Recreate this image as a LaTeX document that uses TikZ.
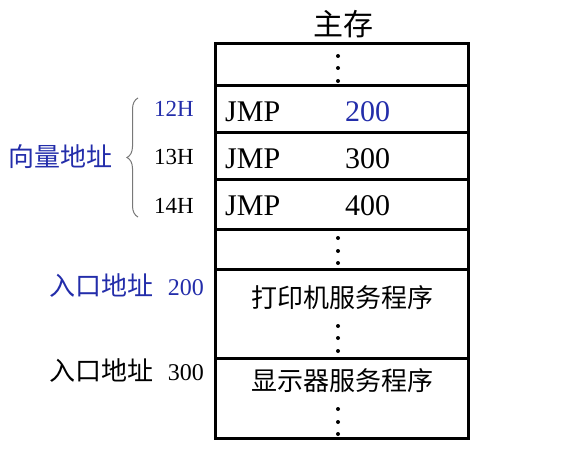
\documentclass[tikz,border=0pt]{standalone}
\usepackage{fontspec}
\setmainfont{Liberation Serif}
\newfontfamily\cjk{Noto Sans CJK SC}
\usetikzlibrary{decorations.pathreplacing}
\definecolor{lblue}{RGB}{35,45,170}
\definecolor{bracegray}{RGB}{120,120,120}
\newcommand{\cjkbig}{\cjk\fontsize{26}{30}\selectfont}
\begin{document}
\begin{tikzpicture}[x=1pt,y=-1pt,
  cell/.style={draw=black,line width=3pt,minimum width=253pt,inner sep=0pt,outer sep=0pt},
  big/.style={font=\fontsize{30}{34}\selectfont,inner sep=0pt},
  mid/.style={font=\fontsize{26}{30}\selectfont,inner sep=0pt},
  lab/.style={font=\fontsize{24}{28}\selectfont,inner sep=0pt},
  addr/.style={font=\fontsize{23}{27}\selectfont,inner sep=0pt},
  vdot/.style={circle,fill=black,inner sep=0pt,minimum size=4pt}]
\useasboundingbox (0,0) rectangle (567,473);
% memory rows
\node[cell,minimum height=42pt] (r0) at (341.5,65) {};
\node[cell,minimum height=47pt] (r1) at (341.5,109.5) {};
\node[cell,minimum height=47pt] (r2) at (341.5,156.5) {};
\node[cell,minimum height=49pt] (r3) at (341.5,204.5) {};
\node[cell,minimum height=40pt] (r4) at (341.5,249) {};
\node[cell,minimum height=89pt] (r5) at (341.5,313.5) {};
\node[cell,minimum height=80pt] (r6) at (341.5,398) {};
% title
\node[big] (title) at (343,24) {\cjk 主存};
% dots
\foreach \y [count=\i] in {56,68,81,238,251,263,326,338,351,409,422,434}
  \node[vdot] (d\i) at (338,\y) {};
% JMP rows
\node[big,anchor=base west] (j1) at (225,122) {JMP};
\node[big,anchor=base west,text=lblue] (n1) at (345,122) {200};
\node[big,anchor=base west] (j2) at (225,168) {JMP};
\node[big,anchor=base west] (n2) at (345,168) {300};
\node[big,anchor=base west] (j3) at (225,215) {JMP};
\node[big,anchor=base west] (n3) at (345,215) {400};
% service routines
\node[mid] (p1) at (342,298) {\cjk 打印机服务程序};
\node[mid] (p2) at (342,381) {\cjk 显示器服务程序};
% addresses
\node[addr,anchor=base east,text=lblue] (a12) at (194,117) {12H};
\node[addr,anchor=base east] (a13) at (194,165) {13H};
\node[addr,anchor=base east] (a14) at (194,213) {14H};
% brace
\coordinate (bb) at (138,217);
\coordinate (bt) at (138,98);
\draw[bracegray,line width=1pt,decorate,decoration={brace,amplitude=11pt}] (bb) -- (bt);
\node[lab,anchor=east,text=lblue] (vec) at (113,157) {\cjkbig 向量地址};
% entry addresses
\node[lab,anchor=base east,text=lblue] (e1) at (204,295) {{\cjkbig 入口地址}\hspace{14pt}200};
\node[lab,anchor=base east] (e2) at (204,380) {{\cjkbig 入口地址}\hspace{14pt}300};
\end{tikzpicture}
\end{document}
